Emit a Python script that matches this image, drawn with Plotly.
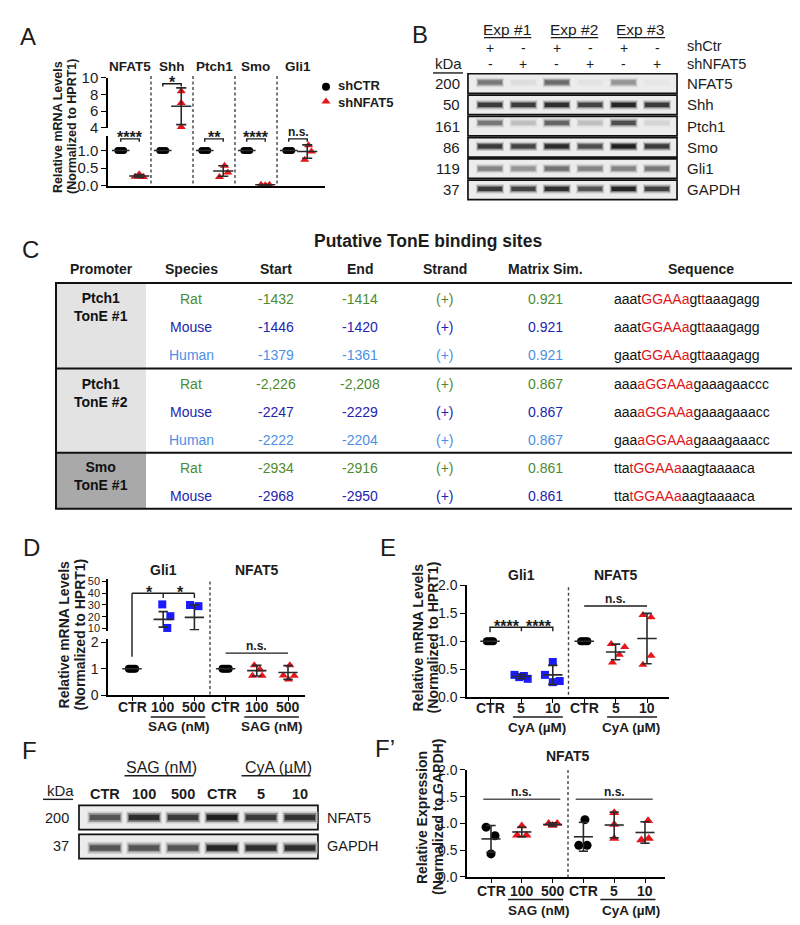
import plotly.graph_objects as go

W, H = 800, 925          # reference picture size
OX, OY = 0, 0            # plot div sits at the window origin
FW, FH = W - OX, H - OY
FONT = "Liberation Sans, Arial, Helvetica, sans-serif"
INK = "#1c1c1c"
RED = "#e8141b"
BLUE = "#1a1aff"
GREEN = "#4d8b31"
NAVY = "#2424b2"
SKY = "#4d8fe3"
SEQRED = "#e0161c"
ERR = "#2a2a2a"

# ======================= DATA =======================
# Panel A : qPCR, shCTR vs shNFAT5
a_genes = ["NFAT5", "Shh", "Ptch1", "Smo", "Gli1"]
a_shctr = [[1.0, 1.0, 1.0], [1.0, 1.0, 1.0], [1.0, 1.0, 1.0], [1.0, 1.0, 1.0], [1.0, 1.0, 1.0]]
a_shnfat5 = [[0.33, 0.26, 0.25], [8.4, 7.0, 4.1], [0.57, 0.25, 0.38], [0.03, 0.02, 0.03], [1.15, 0.74, 0.97]]
a_shnfat5_mean = [0.28, 6.6, 0.42, 0.03, 0.97]
a_shnfat5_sd = [0.04, 2.2, 0.15, 0.01, 0.19]
a_sig = ["****", "*", "**", "****", "n.s."]
a_legend = ["shCTR", "shNFAT5"]
a_yticks_low = [0.0, 0.5, 1.0]
a_yticks_high = [4, 6, 8, 10]

# Panel B : western blot
b_exps = ["Exp #1", "Exp #2", "Exp #3"]
b_shctr = ["+", "-", "+", "-", "+", "-"]
b_shnfat5 = ["-", "+", "-", "+", "-", "+"]
b_proteins = ["NFAT5", "Shh", "Ptch1", "Smo", "Gli1", "GAPDH"]
b_kda = ["200", "50", "161", "86", "119", "37"]
b_bands = [
    [0.55, 0.08, 0.62, 0.05, 0.42, 0.04],
    [0.85, 0.85, 0.90, 0.80, 0.95, 0.85],
    [0.55, 0.22, 0.65, 0.22, 0.75, 0.12],
    [0.85, 0.80, 0.92, 0.75, 0.97, 0.85],
    [0.50, 0.42, 0.58, 0.50, 0.50, 0.55],
    [0.85, 0.80, 0.90, 0.72, 0.95, 0.82],
]

# Panel C : table
c_title = "Putative TonE binding sites"
c_headers = ["Promoter", "Species", "Start", "End", "Strand", "Matrix Sim.", "Sequence"]
c_promoters = ["Ptch1<br>TonE #1", "Ptch1<br>TonE #2", "Smo<br>TonE #1"]
c_species = ["Rat", "Mouse", "Human", "Rat", "Mouse", "Human", "Rat", "Mouse"]
c_start = ["-1432", "-1446", "-1379", "-2,226", "-2247", "-2222", "-2934", "-2968"]
c_end = ["-1414", "-1420", "-1361", "-2,208", "-2229", "-2204", "-2916", "-2950"]
c_strand = ["(+)", "(+)", "(+)", "(+)", "(+)", "(+)", "(+)", "(+)"]
c_sim = ["0.921", "0.921", "0.921", "0.867", "0.867", "0.867", "0.861", "0.861"]
c_seq_pre = ["aaat", "aaat", "gaat", "aaa", "aaa", "gaa", "tta", "tta"]
c_seq_core = ["GGAAa", "GGAAa", "GGAAa", "aGGAAa", "aGGAAa", "aGGAAa", "tGGAAa", "tGGAAa"]
c_seq_post = ["gt[t]aaagagg", "gt[t]aaagagg", "gt[t]aaagagg", "gaaagaaccc", "gaaagaaacc",
              "gaaagaaacc", "aagtaaaaca", "aagtaaaaca"]

# Panel D : SAG
d_ticks = ["CTR", "100", "500", "CTR", "100", "500"]
d_titles = ["Gli1", "NFAT5"]
d_gli1 = [[1, 1, 1, 1], [30.5, 20.5, 7.5, 10.5], [30, 29, 8, 7.5]]
d_gli1_mean = [1.0, 17.8, 19.5]
d_gli1_err = [0.0, 6.6, 10.5]
d_nfat5 = [[1, 1, 1, 1], [1.13, 0.74, 0.74, 0.97], [1.13, 0.75, 0.74, 0.60]]
d_nfat5_mean = [1.0, 0.93, 0.86]
d_nfat5_err = [0.0, 0.2, 0.26]
d_sig = ["*", "*", "n.s."]

# Panel E : CyA
e_ticks = ["CTR", "5", "10", "CTR", "5", "10"]
e_titles = ["Gli1", "NFAT5"]
e_gli1 = [[1, 1, 1, 1], [0.40, 0.36, 0.38, 0.33], [0.63, 0.40, 0.27, 0.29]]
e_gli1_mean = [1.0, 0.37, 0.40]
e_gli1_err = [0.0, 0.04, 0.17]
e_nfat5 = [[1, 1, 1, 1], [0.95, 0.90, 0.62, 0.76], [1.47, 1.43, 0.58, 0.74]]
e_nfat5_mean = [1.0, 0.81, 1.05]
e_nfat5_err = [0.0, 0.14, 0.45]
e_sig = ["****", "****", "n.s."]

# Panel F : western blot
f_lanes = ["CTR", "100", "500", "CTR", "5", "10"]
f_groups = ["SAG (nM)", "CyA (µM)"]
f_proteins = ["NFAT5", "GAPDH"]
f_kda = ["200", "37"]
f_bands = [[0.72, 0.92, 0.85, 0.97, 0.85, 0.88],
           [0.72, 0.72, 0.72, 0.95, 0.90, 0.90]]

# Panel F' : quantification
fp_ticks = ["CTR", "100", "500", "CTR", "5", "10"]
fp_groups = ["SAG (nM)", "CyA (µM)"]
fp_vals = [[0.93, 0.77, 0.43], [0.95, 0.78, 0.78], [1.0, 0.96, 1.0],
           [1.07, 0.59, 0.59], [1.2, 0.72, 0.98], [1.05, 0.69, 0.72]]
fp_mean = [0.71, 0.84, 0.98, 0.75, 0.97, 0.83]
fp_err = [0.25, 0.09, 0.03, 0.27, 0.24, 0.2]
fp_sig = ["n.s.", "n.s."]

# ======================= STYLE (jitter of dots) =======================
a_ctr_jit = [-0.07, 0.0, 0.07]
a_sh_jit = [[0.0, -0.1, 0.1], [0, 0, 0], [0.03, -0.09, 0.11], [-0.1, 0.0, 0.1], [0.03, -0.06, 0.1]]
ctr4_jit = [-0.1, -0.035, 0.035, 0.1]
d_gli1_jit = [ctr4_jit, [-0.03, 0.23, -0.17, 0.13], [-0.14, 0.13, -0.14, 0.13]]
d_nfat5_jit = [ctr4_jit, [-0.08, -0.14, 0.17, 0.1], [0.06, -0.15, 0.2, 0.02]]
e_gli1_jit = [ctr4_jit, [-0.22, -0.07, 0.08, 0.2], [0.0, -0.25, 0.0, 0.22]]
e_nfat5_jit = [ctr4_jit, [-0.14, 0.29, -0.1, 0.12], [-0.13, 0.13, -0.13, 0.13]]
fp_jit = [[-0.16, 0.13, 0.0], [0.0, -0.15, 0.15], [-0.13, 0.0, 0.15],
          [0.05, -0.15, 0.12], [0.0, 0.0, 0.0], [0.1, -0.12, 0.12]]

fig = go.Figure()


def PX(x):
    return (x - OX) / FW


def PY(y):
    return 1 - (y - OY) / FH


# ---------------- axes geometry (pixel domains) ----------------
AX = {}


def xdef(n, p0, p1, c0, s):
    AX[n] = (p0, p1, (p0 - c0) / s, (p1 - c0) / s)


def ydef(n, top, bot, r0, r1):
    AX[n] = (top, bot, r0, r1)


def xp(n, v):
    p0, p1, r0, r1 = AX[n]
    return p0 + (v - r0) / (r1 - r0) * (p1 - p0)


def yp(n, v):
    t, b, r0, r1 = AX[n]
    return b - (v - r0) / (r1 - r0) * (b - t)


xdef("x", 100, 317, 122, 42)
ydef("y", 121.6, 172, 0, 1.4)
ydef("y2", 62, 113, 4, 10)
xdef("x3", 456, 673, 482, 33.4)
ydef("y3", 55, 189, (189 - 67.8) / 21.67, (55 - 67.8) / 21.67)
xdef("x4", 100, 297, 124, 31.2)
ydef("y4", 634, 691, 0, 57 / 27)
ydef("y5", 573, 625, 50 - 50 / 1.2, 50 + 2 / 1.2)
xdef("x6", 459, 661, 482, 31.4)
ydef("y6", 579, 693, 0, 2)
xdef("x7", 67, 314, 97, 39)
ydef("y7", 800, 860, (860 - 815.5) / 29.5, (800 - 815.5) / 29.5)
xdef("x8", 459, 657, 483, 30.8)
ydef("y8", 767, 876, 0, 2)
xdef("x9", 300, 400, 0, 1)
ydef("y9", 60, 95, 95, 60)

anchors = {"x": "y", "y": "x", "y2": "x", "x3": "y3", "y3": "x3", "x4": "y4", "y4": "x4",
           "y5": "x4", "x6": "y6", "y6": "x6", "x7": "y7", "y7": "x7", "x8": "y8",
           "y8": "x8", "x9": "y9", "y9": "x9"}

base_ax = dict(showgrid=False, zeroline=False, fixedrange=True, showline=True,
               linecolor="black", linewidth=1.5, tickcolor="black", tickwidth=1.4,
               ticklen=5, ticks="outside",
               tickfont=dict(family=FONT, size=14, color=INK))


def fmt1(v):
    return "%.1f" % v


axis_extra = {
    "x": dict(ticks="", showticklabels=False),
    "y": dict(tickvals=a_yticks_low, ticktext=[fmt1(v) for v in a_yticks_low],
              tickfont=dict(family=FONT, size=15, color=INK)),
    "y2": dict(tickvals=a_yticks_high, ticktext=[str(v) for v in a_yticks_high],
               tickfont=dict(family=FONT, size=15, color=INK)),
    "x3": dict(visible=False), "y3": dict(visible=False),
    "x4": dict(tickvals=list(range(6)), showticklabels=False, ticklen=4),
    "y4": dict(tickvals=[0, 1, 2], ticktext=["0", "1", "2"]),
    "y5": dict(tickvals=[10, 20, 30, 40, 50], ticktext=["10", "20", "30", "40", "50"],
               tickfont=dict(family=FONT, size=11, color=INK), ticklen=4),
    "x6": dict(tickvals=list(range(6)), showticklabels=False, ticklen=4),
    "y6": dict(tickvals=[0, 0.5, 1, 1.5, 2], ticktext=[fmt1(v) for v in [0, 0.5, 1, 1.5, 2]]),
    "x7": dict(visible=False), "y7": dict(visible=False),
    "x8": dict(tickvals=list(range(6)), showticklabels=False, ticklen=4),
    "y8": dict(tickvals=[0, 0.5, 1, 1.5, 2], ticktext=[fmt1(v) for v in [0, 0.5, 1, 1.5, 2]]),
    "x9": dict(visible=False), "y9": dict(visible=False),
}

layout_axes = {}
for n, spec in AX.items():
    key = n[0] + "axis" + n[1:]
    if n.startswith("x"):
        dom = [PX(spec[0]), PX(spec[1])]
    else:
        dom = [PY(spec[1]), PY(spec[0])]
    d = dict(base_ax)
    d.update(domain=dom, range=[spec[2], spec[3]], anchor=anchors[n])
    d.update(axis_extra[n])
    layout_axes[key] = d


# ---------------- helpers ----------------
def T(x, y, text, size=13, color=INK, bold=False, xa="center", ya="middle", angle=0):
    if bold:
        text = "<b>" + text + "</b>"
    fig.add_annotation(x=PX(x), y=PY(y), xref="paper", yref="paper", text=text,
                       showarrow=False, xanchor=xa, yanchor=ya, textangle=angle,
                       font=dict(family=FONT, size=size, color=color))


def seg(x0, y0, x1, y1, color=INK, width=1.5, dash=None):
    fig.add_shape(type="line", xref="paper", yref="paper", x0=PX(x0), x1=PX(x1),
                  y0=PY(y0), y1=PY(y1), line=dict(color=color, width=width, dash=dash))


def hline_ax(xa, x0, x1, y, color=INK, width=1.5):
    fig.add_shape(type="line", xref=xa, yref="paper", x0=x0, x1=x1, y0=PY(y), y1=PY(y),
                  line=dict(color=color, width=width))


def rect(x0, y0, x1, y1, fill=None, lc=INK, lw=1.5, layer="above"):
    fig.add_shape(type="rect", xref="paper", yref="paper", x0=PX(x0), x1=PX(x1),
                  y0=PY(y1), y1=PY(y0), fillcolor=fill, layer=layer,
                  line=dict(color=lc, width=lw))


def pts(xa, ya, xs, ys, symbol, color, size):
    if not xs:
        return
    fig.add_trace(go.Scatter(x=xs, y=ys, mode="markers", xaxis=xa, yaxis=ya, cliponaxis=False,
                             marker=dict(symbol=symbol, color=color, size=size, line=dict(width=0)),
                             showlegend=False, hoverinfo="skip"))


def lines(xa, ya, xs, ys, color=ERR, width=1.5):
    fig.add_trace(go.Scatter(x=xs, y=ys, mode="lines", xaxis=xa, yaxis=ya,
                             line=dict(color=color, width=width), connectgaps=False,
                             showlegend=False, hoverinfo="skip"))


def errbar(xa, ya, xc, m, e, mw, cw, color=ERR, width=1.6):
    xs = [xc - mw / 2, xc + mw / 2]
    ys = [m, m]
    if e > 0:
        xs += [None, xc, xc, None, xc - cw / 2, xc + cw / 2, None, xc - cw / 2, xc + cw / 2]
        ys += [None, m - e, m + e, None, m + e, m + e, None, m - e, m - e]
    lines(xa, ya, xs, ys, color, width)


def vdash(xa, xv, ytop, ybot):
    fig.add_shape(type="line", xref=xa, yref="paper", x0=xv, x1=xv, y0=PY(ytop),
                  y1=PY(ybot), line=dict(color="#444", width=1.4, dash="3px,2.5px"))


def xticklabels(xa, labels, y, size=14):
    for k, lbl in enumerate(labels):
        T(xp(xa, k), y, lbl, size=size, bold=True)


def gray(v):
    c = int(round(238 - v * 212))
    return "rgb(%d,%d,%d)" % (c, c, c)


def blot(xa, ya, rows, offsets, band_w, band_h, bx0, bx1, bhalf):
    n = len(rows[0])
    lanes = list(range(n))
    for r, row in enumerate(rows):
        fig.add_shape(type="rect", xref=xa, yref=ya, x0=bx0, x1=bx1, y0=r - bhalf, y1=r + bhalf,
                      fillcolor="#ececec", line=dict(color="#111", width=1.7), layer="below")
        c = r + offsets[r]
        for kh, kw, kv in [(2.2, 0.12, 0.2), (1.6, 0.06, 0.55), (1.0, 0.0, 1.0)]:
            hh = band_h * kh
            fig.add_trace(go.Bar(x=lanes, y=[hh] * n, base=[c - hh / 2] * n, width=band_w + kw,
                                 marker=dict(color=[gray(v * kv) for v in row], line=dict(width=0)),
                                 xaxis=xa, yaxis=ya, showlegend=False, hoverinfo="skip"))


def seq_html(pre, core, post):
    red = '<span style="color:%s">' % SEQRED
    return pre + red + core + "</span>" + post.replace("[", red).replace("]", "</span>")


# ======================= PANEL A =======================
A_OFF = 0.22
A_SPLIT = 1.4
for i, gene in enumerate(a_genes):
    xc, xs = i - A_OFF, i + A_OFF
    pts("x", "y", [xc + j for j in a_ctr_jit], a_shctr[i], "circle", "black", 7)
    errbar("x", "y", xc, sum(a_shctr[i]) / len(a_shctr[i]), 0, 0.42, 0.2)
    lo = [(xs + j, v) for j, v in zip(a_sh_jit[i], a_shnfat5[i]) if v <= A_SPLIT]
    hi = [(xs + j, v) for j, v in zip(a_sh_jit[i], a_shnfat5[i]) if v > A_SPLIT]
    pts("x", "y", [p[0] for p in lo], [p[1] for p in lo], "triangle-up", RED, 8)
    pts("x", "y2", [p[0] for p in hi], [p[1] for p in hi], "triangle-up", RED, 8)
    ya = "y2" if a_shnfat5_mean[i] > A_SPLIT else "y"
    errbar("x", ya, xs, a_shnfat5_mean[i], a_shnfat5_sd[i], 0.48, 0.24)
    if ya == "y2":
        yb, leg = 9.3, 0.35
    else:
        yb, leg = 1.33, 0.08
    lines("x", ya, [xc, xc, xs, xs], [yb - leg, yb, yb, yb - leg], color=INK, width=1.4)
    sig = a_sig[i]
    if sig == "n.s.":
        T(xp("x", i), yp(ya, yb) - 7, sig, size=12, bold=True)
    else:
        T(xp("x", i), yp(ya, yb) - 1, sig, size=16, bold=True)
    T(xp("x", i), 50, gene, size=13.5, bold=True)
    if i < len(a_genes) - 1:
        vdash("x", i + 0.5, 60, 172)

# legend
pts("x9", "y9", [318], [71], "circle", "black", 8)
pts("x9", "y9", [318], [86], "triangle-up", RED, 8)
T(328, 70, a_legend[0], size=13, bold=True, xa="left")
T(328, 87, a_legend[1], size=13, bold=True, xa="left")
T(50, 112, "Relative mRNA Levels", size=12.5, bold=True, angle=-90)
T(64, 112, "(Normalized to HPRT1)", size=12.5, bold=True, angle=-90)
T(20, 20, "A", size=24)

# ======================= PANEL B =======================
blot("x3", "y3", b_bands, [-0.05, 0.0, -0.15, -0.05, 0.0, -0.05], 0.72, 0.2, -0.66, 5.6, 0.46)
for k, lbl in enumerate(b_exps):
    cx = (xp("x3", 2 * k) + xp("x3", 2 * k + 1)) / 2
    T(cx, 13, lbl, size=15.5)
    seg(xp("x3", 2 * k) - 6, 21, xp("x3", 2 * k + 1) + 8, 21, color=INK, width=1.4)
for k in range(6):
    T(xp("x3", k), 32, b_shctr[k], size=14)
    T(xp("x3", k), 48, b_shnfat5[k], size=14)
T(677, 30, "shCtr", size=14.5, xa="left")
T(677, 48, "shNFAT5", size=14.5, xa="left")
T(440, 47, "kDa", size=15)
seg(425, 57, 455, 57, color=INK, width=1.4)
for r in range(6):
    T(454, yp("y3", r), b_kda[r], size=15, xa="right")
    T(677, yp("y3", r), b_proteins[r], size=15, xa="left")
T(412, 18, "B", size=24)

# ======================= PANEL C =======================
T(22, 237, "C", size=24)
T(420, 228, c_title, size=17.5, bold=True)
col_x = [93, 183, 268, 352, 437, 537, 693]
for cx, hd in zip(col_x, c_headers):
    T(cx, 257, hd, size=14, bold=True)
row_y = [287, 316, 344, 374, 402, 431, 459, 488]
group_bounds = [(271, 358), (358, 444), (444, 501)]
group_fill = ["#e3e3e3", "#e3e3e3", "#a9a9a9"]
for g, (t0, t1) in enumerate(group_bounds):
    rect(48, t0, 138, t1, fill=group_fill[g], lc="rgba(0,0,0,0)", lw=0, layer="below")
rect(48, 271, 793, 501, fill=None, lc="#111", lw=2)
seg(48, 358, 793, 358, color="#111", width=2)
seg(48, 444, 793, 444, color="#111", width=2)
prom_y = [295, 383, 468]
for g, p in enumerate(c_promoters):
    T(93, prom_y[g], p, size=14, bold=True, color="#111")
sp_color = {"Rat": GREEN, "Mouse": NAVY, "Human": SKY}
for r in range(len(c_species)):
    col = sp_color[c_species[r]]
    y = row_y[r]
    T(col_x[1], y, c_species[r], size=14, color=col)
    T(col_x[2], y, c_start[r], size=14, color=col)
    T(col_x[3], y, c_end[r], size=14, color=col)
    T(col_x[4], y, c_strand[r], size=14, color=col)
    T(col_x[5], y, c_sim[r], size=14, color=col)
    T(604, y, seq_html(c_seq_pre[r], c_seq_core[r], c_seq_post[r]), size=14, color="#111", xa="left")

# ======================= PANEL D =======================
T(23, 540, "D", size=24)
SPLIT_D = 2.1
for k in range(3):
    vals = d_gli1[k]
    xsv = [k + j for j in d_gli1_jit[k]]
    lo = [(x, v) for x, v in zip(xsv, vals) if v <= SPLIT_D]
    hi = [(x, v) for x, v in zip(xsv, vals) if v > SPLIT_D]
    sym, colr = ("circle", "black") if k == 0 else ("square", BLUE)
    pts("x4", "y4", [p[0] for p in lo], [p[1] for p in lo], sym, colr, 8)
    pts("x4", "y5", [p[0] for p in hi], [p[1] for p in hi], sym, colr, 8)
    ya = "y5" if d_gli1_mean[k] > SPLIT_D else "y4"
    errbar("x4", ya, k, d_gli1_mean[k], d_gli1_err[k], 0.62, 0.3)
    sym, colr = ("circle", "black") if k == 0 else ("triangle-up", RED)
    pts("x4", "y4", [3 + k + j for j in d_nfat5_jit[k]], d_nfat5[k], sym, colr, 8)
    errbar("x4", "y4", 3 + k, d_nfat5_mean[k], d_nfat5_err[k], 0.62, 0.3)
BR_D = 40
lines("x4", "y5", [0, 2, None, 1, 1, None, 2, 2], [BR_D, BR_D, None, BR_D, BR_D - 4, None, BR_D, BR_D - 4],
      color=INK, width=1.4)
fig.add_shape(type="line", xref="x4", yref="paper", x0=0, x1=0, y0=PY(yp("y5", BR_D)),
              y1=PY(yp("y4", 1.45)), line=dict(color=INK, width=1.4))
T(xp("x4", 0.57), yp("y5", BR_D) - 1, d_sig[0], size=16, bold=True)
T(xp("x4", 1.55), yp("y5", BR_D) - 1, d_sig[1], size=16, bold=True)
NS_D = 1.59
lines("x4", "y4", [3, 5], [NS_D, NS_D], color=INK, width=1.4)
T(xp("x4", 4), yp("y4", NS_D) - 7, d_sig[2], size=12, bold=True)
vdash("x4", 2.5, 575, 691)
T(xp("x4", 1), 563, d_titles[0], size=14, bold=True)
T(xp("x4", 4), 563, d_titles[1], size=14, bold=True)
xticklabels("x4", d_ticks, 703)
for g in range(2):
    hline_ax("x4", 3 * g + 0.6, 3 * g + 2.35, 713)
    T(xp("x4", 3 * g + 1.5), 723, "SAG (nM)", size=13.5, bold=True)
T(56, 629, "Relative mRNA Levels", size=14, bold=True, angle=-90)
T(72, 629, "(Normalized to HPRT1)", size=14, bold=True, angle=-90)

# ======================= PANEL E =======================
T(380, 540, "E", size=24)
for k in range(3):
    sym, colr = ("circle", "black") if k == 0 else ("square", BLUE)
    pts("x6", "y6", [k + j for j in e_gli1_jit[k]], e_gli1[k], sym, colr, 8)
    errbar("x6", "y6", k, e_gli1_mean[k], e_gli1_err[k], 0.62, 0.3)
    sym, colr = ("circle", "black") if k == 0 else ("triangle-up", RED)
    pts("x6", "y6", [3 + k + j for j in e_nfat5_jit[k]], e_nfat5[k], sym, colr, 8)
    errbar("x6", "y6", 3 + k, e_nfat5_mean[k], e_nfat5_err[k], 0.62, 0.3)
BR_E = 1.25
lines("x6", "y6", [0, 0, 2, 2, None, 1, 1], [BR_E - 0.09, BR_E, BR_E, BR_E - 0.07, None, BR_E, BR_E - 0.07],
      color=INK, width=1.4)
T(xp("x6", 0.54), yp("y6", BR_E) - 1, e_sig[0], size=16, bold=True)
T(xp("x6", 1.56), yp("y6", BR_E) - 1, e_sig[1], size=16, bold=True)
NS_E = 1.63
lines("x6", "y6", [3, 5], [NS_E, NS_E], color=INK, width=1.4)
T(xp("x6", 4), yp("y6", NS_E) - 7, e_sig[2], size=12, bold=True)
vdash("x6", 2.5, 581, 693)
T(xp("x6", 1), 568, e_titles[0], size=14, bold=True)
T(xp("x6", 4), 568, e_titles[1], size=14, bold=True)
xticklabels("x6", e_ticks, 704)
for g in range(2):
    hline_ax("x6", 3 * g + 0.73, 3 * g + 2.32, 713)
    T(xp("x6", 3 * g + 1.5), 724, "CyA (µM)", size=13.5, bold=True)
T(410, 632, "Relative mRNA Levels", size=14, bold=True, angle=-90)
T(425, 632, "(Normalized to HPRT1)", size=14, bold=True, angle=-90)

# ======================= PANEL F =======================
T(21, 747, "F", size=24)
blot("x7", "y7", f_bands, [0.0, 0.05], 0.78, 0.19, -0.667, 5.46, 0.42)
for g, lbl in enumerate(f_groups):
    x0 = xp("x7", 3 * g + 0.5)
    x1 = xp("x7", 3 * g + 2.27)
    T(xp("x7", 3 * g + 1.45), 765, lbl, size=16)
    seg(x0, 773, x1, 773, color=INK, width=1.4)
for k, lbl in enumerate(f_lanes):
    T(xp("x7", k), 792, lbl, size=14.5, bold=True)
T(52, 788, "kDa", size=15)
seg(35, 797, 65, 797, color=INK, width=1.4)
for r in range(2):
    T(63, yp("y7", r), f_kda[r], size=14.5, xa="right")
    T(317, yp("y7", r), f_proteins[r], size=14.5, xa="left")

# ======================= PANEL F' =======================
T(377, 745, "F’", size=24)
for k in range(6):
    sym, colr = ("circle", "black") if k in (0, 3) else ("triangle-up", RED)
    pts("x8", "y8", [k + j for j in fp_jit[k]], fp_vals[k], sym, colr, 9)
    errbar("x8", "y8", k, fp_mean[k], fp_err[k], 0.62, 0.3)
NS_F = 1.45
for g in range(2):
    lines("x8", "y8", [3 * g - 0.25, 3 * g + 2.25], [NS_F, NS_F], color="#555", width=1.5)
    T(xp("x8", 3 * g + 1), yp("y8", NS_F) - 7, fp_sig[g], size=12, bold=True)
vdash("x8", 2.5, 767, 876)
T(xp("x8", 2.5), 753, "NFAT5", size=14, bold=True)
xticklabels("x8", fp_ticks, 890)
for g in range(2):
    hline_ax("x8", 3 * g + 0.55, 3 * g + 2.34, 899)
    T(xp("x8", 3 * g + 1.55), 910, fp_groups[g], size=13.5, bold=True)
T(414, 815, "Relative Expression", size=14, bold=True, angle=-90)
T(430, 815, "(Normalized to GAPDH)", size=14, bold=True, angle=-90)

fig.update_layout(
    width=FW, height=FH, autosize=False,
    margin=dict(l=0, r=0, t=0, b=0),
    paper_bgcolor="white", plot_bgcolor="rgba(0,0,0,0)",
    showlegend=False, barmode="overlay", hovermode=False,
    font=dict(family=FONT, color=INK),
    **layout_axes,
)
fig.write_html("out.html")
